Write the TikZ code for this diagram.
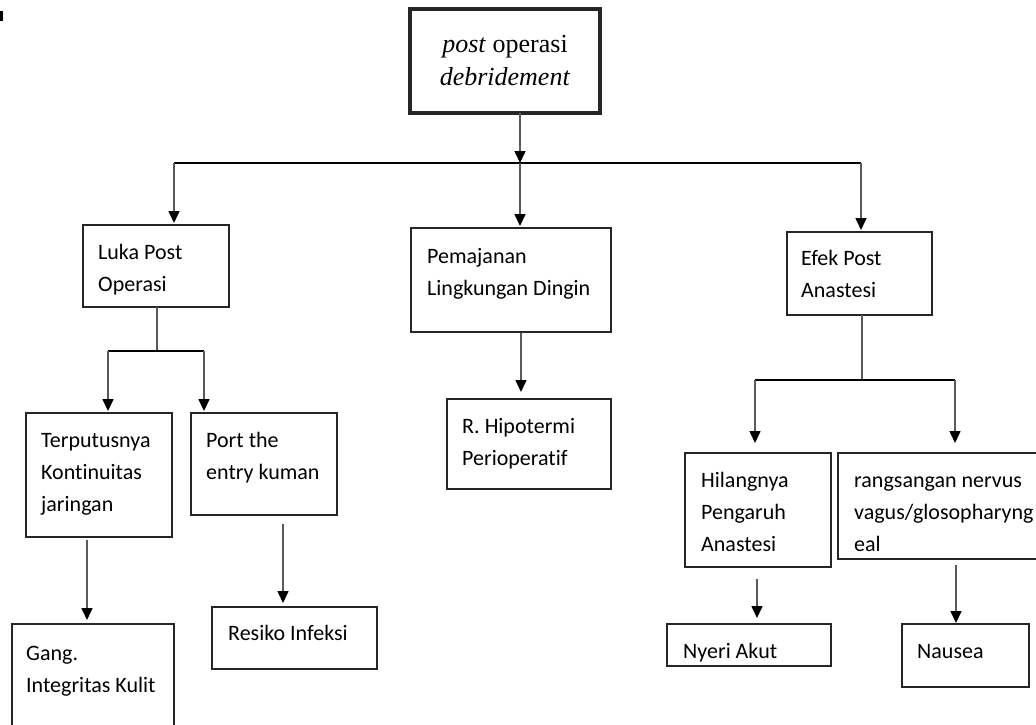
\documentclass[tikz,border=0pt]{standalone}
\usepackage{fontspec}
\setmainfont{Carlito}[Ligatures={NoCommon}]
\newfontfamily\tnr{Liberation Serif}
\usetikzlibrary{arrows.meta,calc}
\tikzset{
  box/.style={draw=black!85, line width=1.5pt, rectangle, inner sep=0pt, outer sep=0pt, anchor=north west},
  txt/.style={anchor=base west, align=left, inner sep=0pt, font=\fontsize{22}{32}\selectfont},
  conn/.style={draw=black!65, line width=1.6pt},
  hline/.style={draw=black, line width=1.6pt},
  arr/.style={conn, -{Triangle[width=11pt,length=12pt,color=black]}, shorten >=2pt}
}
\begin{document}
\begin{tikzpicture}[x=1pt,y=-1pt]
\useasboundingbox (0,0) rectangle (1036,724);
\clip (0,0) rectangle (1036,724);
\fill[black] (0,11) rectangle (2.5,21);
% top box
\node[box, line width=4pt, minimum width=190pt, minimum height=104pt, align=center,
  font=\tnr\fontsize{26}{33}\selectfont] (top) at (410,9) {\textit{post} operasi\\\textit{debridement}};
% level 1
\node[box, minimum width=146pt, minimum height=82pt] (luka) at (83,225) {};
\node[box, minimum width=200pt, minimum height=104pt] (pem) at (411,228) {};
\node[box, minimum width=145pt, minimum height=83pt] (efek) at (787,232) {};
% level 2
\node[box, minimum width=146pt, minimum height=124pt] (terp) at (26,413) {};
\node[box, minimum width=146pt, minimum height=102pt] (port) at (191,413) {};
\node[box, minimum width=164pt, minimum height=90pt] (hipo) at (447,399) {};
\node[box, minimum width=146pt, minimum height=114pt] (hil) at (685,453) {};
\node[box, minimum width=207pt, minimum height=106pt] (rang) at (838,453) {};
% level 3
\node[box, minimum width=162pt, minimum height=116pt] (gang) at (12,624) {};
\node[box, minimum width=165pt, minimum height=62pt] (res) at (212,607) {};
\node[box, minimum width=164pt, minimum height=42pt] (nyeri) at (667,624) {};
\node[box, minimum width=127pt, minimum height=63pt] (naus) at (902,624) {};
% texts (anchor = baseline of last line)
\node[txt] (lukaT) at (98,291) {Luka Post\\Operasi};
\node[txt] (pemT) at (427,295) {Pemajanan\\Lingkungan Dingin};
\node[txt] (efekT) at (801,297) {Efek Post\\Anastesi};
\node[txt] (terpT) at (41,511) {Terputusnya\\Kontinuitas\\jaringan};
\node[txt] (portT) at (206,479) {Port the\\entry kuman};
\node[txt] (hipoT) at (462,465) {R. Hipotermi\\Perioperatif};
\node[txt] (hilT) at (701,551) {Hilangnya\\Pengaruh\\Anastesi};
\node[txt] (rangT) at (854,551) {rangsangan nervus\\vagus/glosopharyng\\eal};
\node[txt] (gangT) at (26,692) {Gang.\\Integritas Kulit};
\node[txt] (resT) at (228,640) {Resiko Infeksi};
\node[txt] (nyeriT) at (683,658) {Nyeri Akut};
\node[txt] (nausT) at (917,658) {Nausea};
% junction coordinates
\coordinate (b0) at (520,163);
\coordinate (bL) at (174,163);
\coordinate (bR) at (861,163);
\coordinate (l0) at (157,351);
\coordinate (lL) at (108,351);
\coordinate (lR) at (204,351);
\coordinate (e0) at (862,380);
\coordinate (eL) at (755,380);
\coordinate (eR) at (955,380);
\coordinate (sa) at (87,540);
\coordinate (sb) at (283,524);
\coordinate (sc) at (521,333);
\coordinate (sd) at (757,579);
\coordinate (se) at (956,565);
% connectors
\draw[arr, shorten >=0pt] (top.south -| b0) -- (b0);
\draw[hline] (bL) -- (bR);
\draw[arr] (bL) -- (bL |- luka.north);
\draw[arr] (b0) -- (b0 |- pem.north);
\draw[arr] (bR) -- (bR |- efek.north);
\draw[conn] (luka.south -| l0) -- (l0);
\draw[hline] (lL) -- (lR);
\draw[arr] (lL) -- (lL |- terp.north);
\draw[arr] (lR) -- (lR |- port.north);
\draw[conn] (efek.south -| e0) -- (e0);
\draw[hline] (eL) -- (eR);
\draw[arr, shorten >=10pt] (eL) -- (eL |- hil.north);
\draw[arr, shorten >=10pt] (eR) -- (eR |- rang.north);
\draw[arr, shorten >=4pt] (sa) -- (sa |- gang.north);
\draw[arr, shorten >=4pt] (sb) -- (sb |- res.north);
\draw[arr, shorten >=7pt] (sc) -- (sc |- hipo.north);
\draw[arr, shorten >=6pt] (sd) -- (sd |- nyeri.north);
\draw[arr, shorten >=1pt] (se) -- (se |- naus.north);
\end{tikzpicture}
\end{document}
